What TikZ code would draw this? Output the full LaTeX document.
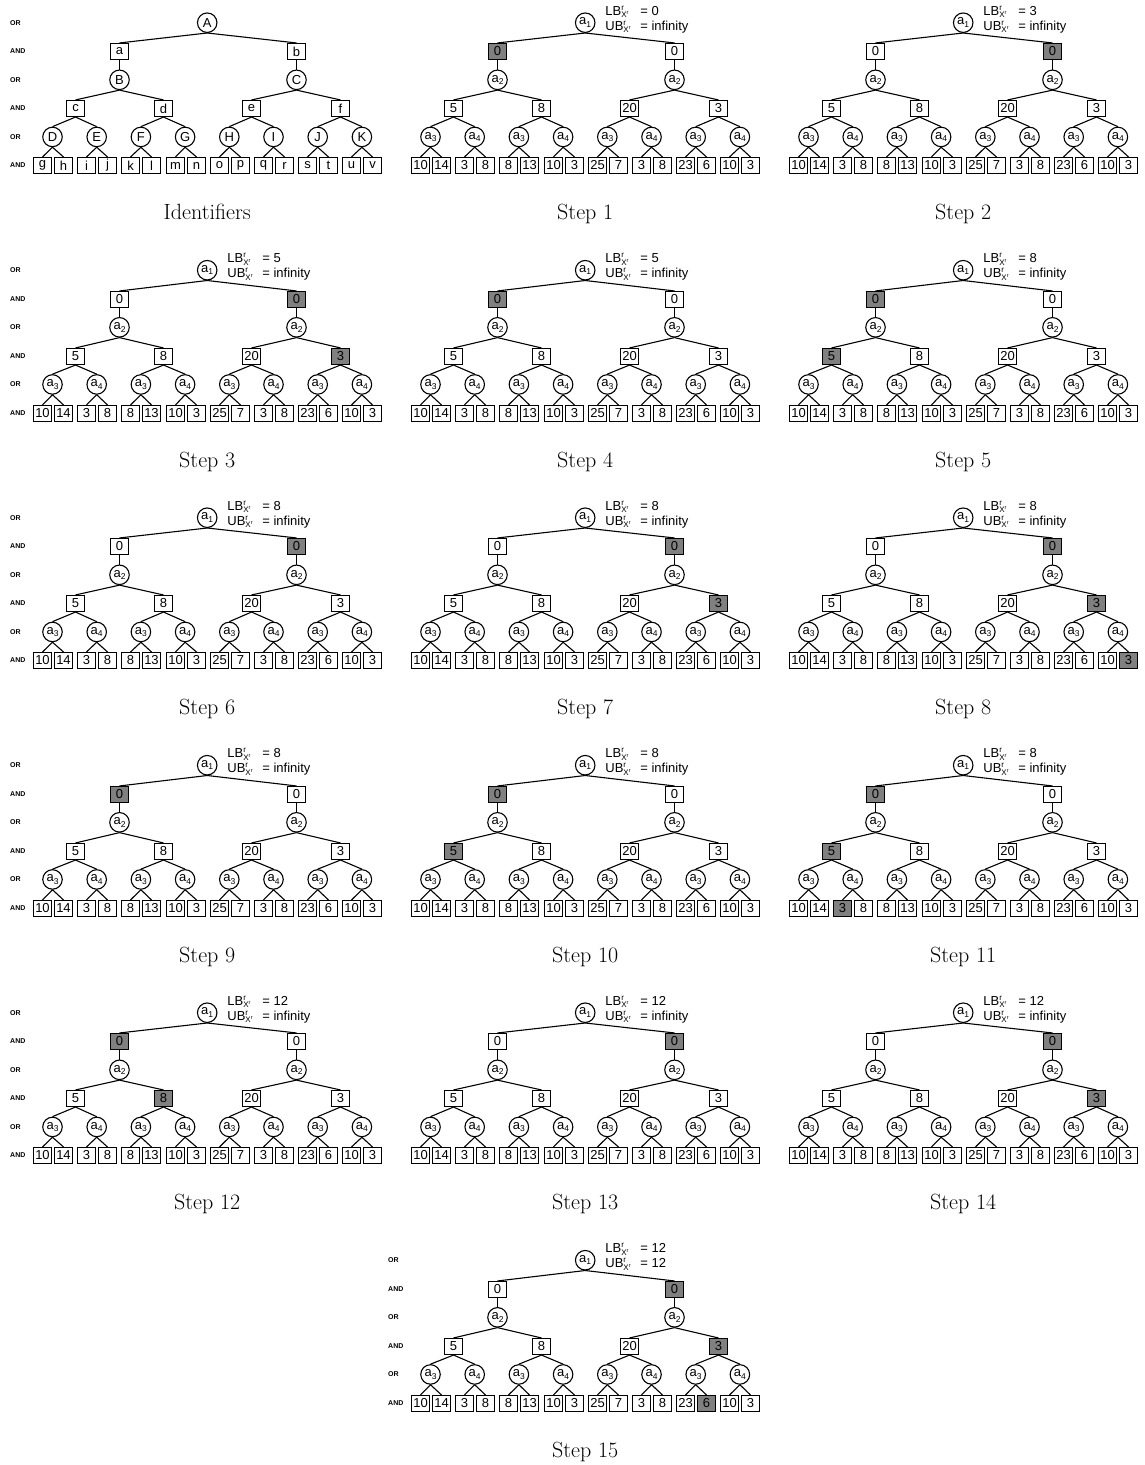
\documentclass[tikz,border=0pt]{standalone}
\usepackage{fontspec}
\newfontfamily\sff{Liberation Sans}
\newcommand\nodefont{\sff\fontsize{13}{13}\selectfont}
\newcommand\sub[1]{\raisebox{-2.5pt}{\fontsize{8.5}{8.5}\selectfont #1}}
\newcommand\av[1]{a\sub{#1}}
\newcommand\bnd[1]{#1\rlap{\raisebox{5pt}{\fontsize{8}{8}\selectfont r}}\raisebox{-2.6pt}{\fontsize{8}{8}\selectfont X\raisebox{2.8pt}{\fontsize{5.5}{5.5}\selectfont r}}}

\tikzset{
  ornode/.style={circle, draw, line width=1.1pt, fill=white, minimum size=19.5pt, inner sep=0pt, font=\nodefont},
  andnode/.style={rectangle, draw, line width=1.1pt, fill=white, minimum width=18pt, minimum height=16pt, inner sep=0pt, font=\nodefont},
  hl/.style={fill=gray},
  conn/.style={line width=1.1pt},
  lvl/.style={anchor=west, inner sep=0pt, font=\sff\bfseries\fontsize{7}{7}\selectfont},
  captxt/.style={anchor=base, inner sep=0pt, font=\fontsize{22}{22}\selectfont},
  bndtxt/.style={anchor=base west, inner sep=0pt, font=\nodefont},
  h-a0/.style={}, h-a1/.style={},
  h-b0/.style={}, h-b1/.style={}, h-b2/.style={}, h-b3/.style={},
  h-l0/.style={}, h-l1/.style={}, h-l2/.style={}, h-l3/.style={},
  h-l4/.style={}, h-l5/.style={}, h-l6/.style={}, h-l7/.style={},
  h-l8/.style={}, h-l9/.style={}, h-l10/.style={}, h-l11/.style={},
  h-l12/.style={}, h-l13/.style={}, h-l14/.style={}, h-l15/.style={},
}

\newcommand\identdefs{%
  \def\Lroot{A}\def\Lands{a,b}\def\Lors{B,C}\def\Lb{c,d,e,f}%
  \def\Lc{D,E,F,G,H,I,J,K}%
  \def\Ll{g,h,i,j,k,l,m,n,o,p,q,r,s,t,u,v}}
\newcommand\stepdefs{%
  \def\Lroot{\av1}\def\Lands{0,0}\def\Lors{\av2,\av2}\def\Lb{5,8,20,3}%
  \def\Lc{\av3,\av4,\av3,\av4,\av3,\av4,\av3,\av4}%
  \def\Ll{10,14,3,8,8,13,10,3,25,7,3,8,23,6,10,3}}

% #1 name, #2 x0, #3 y0, #4 highlight styles, #5 level labels (1/0), #6 caption
\newcommand\treepanel[6]{%
\begin{scope}
  \tikzset{#4}
  \pgfmathsetmacro\xo{#2}
  \pgfmathsetmacro\yo{#3}
  \pgfmathsetmacro\rs{28.56}
  \pgfmathsetmacro\rx{\xo+174.2}
  \pgfmathsetmacro\ya{round(\yo+\rs)+0.5}
  \pgfmathsetmacro\yb{\yo+2*\rs}
  \pgfmathsetmacro\yc{round(\yo+3*\rs)+0.5}
  \pgfmathsetmacro\yd{\yo+4*\rs}
  \pgfmathsetmacro\ye{round(\yo+5*\rs)+0.5}
  \node[ornode] (#1-r) at (\rx,\yo) {\Lroot};
  \foreach \v [count=\k from 0] in \Lands {
    \pgfmathsetmacro\nx{round(\xo+176.8*\k+85.8)+0.5}
    \node[andnode,h-a\k] (#1-a\k) at (\nx,\ya) {\v};
  }
  \foreach \v [count=\k from 0] in \Lors {
    \pgfmathsetmacro\nx{round(\xo+176.8*\k+85.8)+0.5}
    \node[ornode] (#1-o\k) at (\nx,\yb) {\v};
  }
  \foreach \v [count=\k from 0] in \Lb {
    \pgfmathsetmacro\nx{round(\xo+88.4*\k+41.6)+0.5}
    \node[andnode,h-b\k] (#1-b\k) at (\nx,\yc) {\v};
  }
  \foreach \v [count=\k from 0] in \Lc {
    \pgfmathsetmacro\nx{\xo+44.2*\k+19.5}
    \node[ornode] (#1-c\k) at (\nx,\yd) {\v};
  }
  \foreach \v [count=\k from 0] in \Ll {
    \pgfmathsetmacro\nx{round(\xo+44.2*floor(\k/2)+9+21*mod(\k,2))+0.5}
    \node[andnode,h-l\k] (#1-l\k) at (\nx,\ye) {\v};
  }
  \foreach \k in {0,1} {
    \pgfmathtruncatemacro\ba{2*\k}
    \pgfmathtruncatemacro\bb{2*\k+1}
    \draw[conn] (#1-r.south) -- (#1-a\k.north);
    \draw[conn] (#1-a\k.south) -- (#1-o\k.north);
    \draw[conn] (#1-o\k.south) -- (#1-b\ba.north);
    \draw[conn] (#1-o\k.south) -- (#1-b\bb.north);
  }
  \foreach \k in {0,...,3} {
    \pgfmathtruncatemacro\ba{2*\k}
    \pgfmathtruncatemacro\bb{2*\k+1}
    \draw[conn] (#1-b\k.south) -- (#1-c\ba.north);
    \draw[conn] (#1-b\k.south) -- (#1-c\bb.north);
  }
  \foreach \k in {0,...,7} {
    \pgfmathtruncatemacro\ba{2*\k}
    \pgfmathtruncatemacro\bb{2*\k+1}
    \draw[conn] (#1-c\k.south) -- (#1-l\ba.north);
    \draw[conn] (#1-c\k.south) -- (#1-l\bb.north);
  }
  \ifnum#5=1
    \foreach \t [count=\q from 0] in {OR,AND,OR,AND,OR,AND} {
      \node[lvl] (#1-t\q) at (\xo-23,\yo+\q*\rs) {\t};
    }
  \fi
  \node[captxt] (#1-cap) at (\rx,\yo+5*\rs+54) {#6};
\end{scope}}

% #1 name, #2 x0, #3 y0, #4 LB, #5 UB
\newcommand\bounds[5]{%
  \node[bndtxt] (#1-lb) at (#2+194.2,#3-7.7) {\bnd{LB}};
  \node[bndtxt] (#1-lbv) at (#2+229.2,#3-7.7) {= #4};
  \node[bndtxt] (#1-ub) at (#2+194.2,#3+7.3) {\bnd{UB}};
  \node[bndtxt] (#1-ubv) at (#2+229.2,#3+7.3) {= #5};}

\begin{document}
\begin{tikzpicture}[x=1pt,y=-1pt]
\useasboundingbox (0,0) rectangle (1144,1465);
\fill[white] (0,0) rectangle (1144,1465);
\identdefs
\treepanel{id}{33}{22.7}{}{1}{Identifiers}
\stepdefs
% row 0
\treepanel{s1}{411}{22.7}{h-a0/.style=hl}{0}{Step 1}
\bounds{s1}{411}{22.7}{0}{infinity}
\treepanel{s2}{789}{22.7}{h-a1/.style=hl}{0}{Step 2}
\bounds{s2}{789}{22.7}{3}{infinity}
% row 1
\treepanel{s3}{33}{270.2}{h-a1/.style=hl,h-b3/.style=hl}{1}{Step 3}
\bounds{s3}{33}{270.2}{5}{infinity}
\treepanel{s4}{411}{270.2}{h-a0/.style=hl}{0}{Step 4}
\bounds{s4}{411}{270.2}{5}{infinity}
\treepanel{s5}{789}{270.2}{h-a0/.style=hl,h-b0/.style=hl}{0}{Step 5}
\bounds{s5}{789}{270.2}{8}{infinity}
% row 2
\treepanel{s6}{33}{517.7}{h-a1/.style=hl}{1}{Step 6}
\bounds{s6}{33}{517.7}{8}{infinity}
\treepanel{s7}{411}{517.7}{h-a1/.style=hl,h-b3/.style=hl}{0}{Step 7}
\bounds{s7}{411}{517.7}{8}{infinity}
\treepanel{s8}{789}{517.7}{h-a1/.style=hl,h-b3/.style=hl,h-l15/.style=hl}{0}{Step 8}
\bounds{s8}{789}{517.7}{8}{infinity}
% row 3
\treepanel{s9}{33}{765.2}{h-a0/.style=hl}{1}{Step 9}
\bounds{s9}{33}{765.2}{8}{infinity}
\treepanel{s10}{411}{765.2}{h-a0/.style=hl,h-b0/.style=hl}{0}{Step 10}
\bounds{s10}{411}{765.2}{8}{infinity}
\treepanel{s11}{789}{765.2}{h-a0/.style=hl,h-b0/.style=hl,h-l2/.style=hl}{0}{Step 11}
\bounds{s11}{789}{765.2}{8}{infinity}
% row 4
\treepanel{s12}{33}{1012.7}{h-a0/.style=hl,h-b1/.style=hl}{1}{Step 12}
\bounds{s12}{33}{1012.7}{12}{infinity}
\treepanel{s13}{411}{1012.7}{h-a1/.style=hl}{0}{Step 13}
\bounds{s13}{411}{1012.7}{12}{infinity}
\treepanel{s14}{789}{1012.7}{h-a1/.style=hl,h-b3/.style=hl}{0}{Step 14}
\bounds{s14}{789}{1012.7}{12}{infinity}
% row 5
\treepanel{s15}{411}{1260.2}{h-a1/.style=hl,h-b3/.style=hl,h-l13/.style=hl}{1}{Step 15}
\bounds{s15}{411}{1260.2}{12}{12}
\end{tikzpicture}
\end{document}
